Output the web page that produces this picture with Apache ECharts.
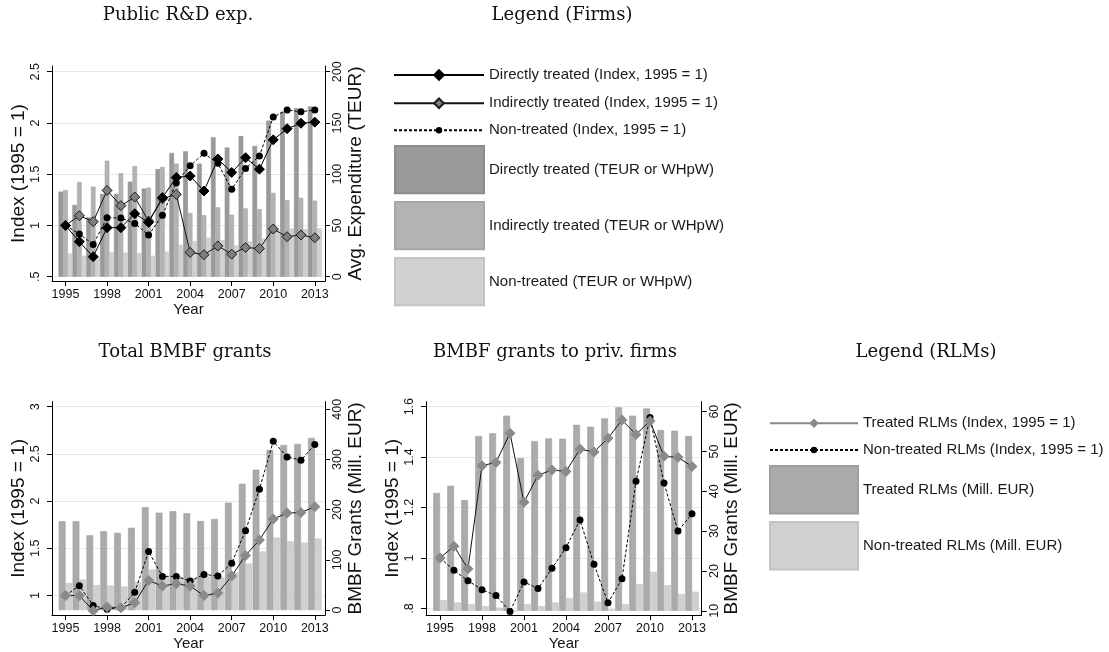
<!DOCTYPE html>
<html>
<head>
<meta charset="utf-8">
<script src="https://cdn.jsdelivr.net/npm/echarts@6/dist/echarts.min.js"></script>
<style>html,body{margin:0;padding:0;background:#fff}#c{width:1109px;height:652px}</style>
</head>
<body>
<div id="c"></div>
<script>
// ---------- data ----------
const years = [1995,1996,1997,1998,1999,2000,2001,2002,2003,2004,2005,2006,2007,2008,2009,2010,2011,2012,2013];
const xTicks = [1995,1998,2001,2004,2007,2010,2013];

// Panel: Public R&D exp.
const pubDirectIdx   = [1.0,0.842,0.695,0.978,0.978,1.115,1.03,1.272,1.468,1.482,1.336,1.648,1.517,1.661,1.549,1.835,1.944,1.997,2.008];
const pubIndirectIdx = [1.0,1.095,1.037,1.342,1.193,1.277,1.043,1.26,1.303,0.737,0.715,0.80,0.72,0.785,0.774,0.965,0.89,0.907,0.88];
const pubNonIdx      = [1.0,0.916,0.815,1.076,1.072,1.02,0.906,1.10,1.417,1.583,1.704,1.606,1.353,1.556,1.678,2.058,2.127,2.109,2.127];
const pubDirectTeur   = [83,70,58,80.7,80.7,92.7,86,105,120.7,122.3,110.3,136.2,126,137.2,127.6,152.3,161,164.4,166];
const pubIndirectTeur = [84.6,92.4,87.9,113.2,101,108,86.9,107,110.3,62.2,60.2,67.7,60.5,66.7,66,81.8,74.8,77,74.2];
const pubNonTeur      = [22.5,20.5,19,23.8,23.5,23,20.4,24.4,31,34.8,38,35.8,30.3,34.4,37.2,46,47,46.5,47.2];
const pubLeftTicks  = [0.5,1,1.5,2,2.5];
const pubRightTicks = [0,50,100,150,200];

// Panel: Total BMBF grants
const totTreatedIdx  = [1.0,1.0,0.84,0.88,0.87,0.925,1.16,1.10,1.126,1.10,1.0,1.026,1.207,1.424,1.589,1.81,1.873,1.88,1.94];
const totNonIdx      = [1.0,1.105,0.895,0.855,0.87,1.035,1.466,1.203,1.203,1.154,1.224,1.207,1.343,1.687,2.125,2.633,2.468,2.433,2.6];
const totTreatedMeur = [177,177,149,157,154,164,205,194,197,193,177.5,181.5,214,251.7,279.5,319,329,331,343];
const totNonMeur     = [54,61,50,49,47,56,81,66,66,63,67,66,75,92.7,116.6,144.4,137,134.4,142.4];
const totLeftTicks  = [1,1.5,2,2.5,3];
const totRightTicks = [0,100,200,300,400];

// Panel: BMBF grants to priv. firms
const privTreatedIdx  = [1.0,1.047,0.957,1.366,1.379,1.495,1.221,1.328,1.349,1.343,1.432,1.42,1.475,1.547,1.49,1.543,1.403,1.399,1.363];
const privNonIdx      = [1.0,0.951,0.91,0.874,0.851,0.788,0.905,0.879,0.959,1.041,1.151,0.975,0.822,0.918,1.304,1.557,1.297,1.107,1.175];
const privTreatedMeur = [39.6,41.4,37.8,53.9,54.6,59,48.3,52.6,53.3,53.2,56.7,56.2,58.3,61.1,59,60.8,55.4,55.2,53.9];
const privNonMeur     = [12.7,12.1,11.7,11.2,10.8,10.1,11.7,11.2,12.1,13.2,14.6,12.3,10.4,11.7,16.7,19.8,16.4,14.2,14.8];
const privLeftTicks  = [0.8,1,1.2,1.4,1.6];
const privRightTicks = [10,20,30,40,50,60];

// series names
const N = {
  dIdx:'Directly treated (Index, 1995 = 1)', iIdx:'Indirectly treated (Index, 1995 = 1)', nIdx:'Non-treated (Index, 1995 = 1)',
  dBar:'Directly treated (TEUR or WHpW)', iBar:'Indirectly treated (TEUR or WHpW)', nBar:'Non-treated (TEUR or WHpW)',
  tIdx:'Treated RLMs (Index, 1995 = 1)', ntIdx:'Non-treated RLMs (Index, 1995 = 1)',
  tBar:'Treated RLMs (Mill. EUR)', ntBar:'Non-treated RLMs (Mill. EUR)'
};

// ---------- helpers ----------
const SANS = 'Liberation Sans, Arial, sans-serif';
const SERIF = 'DejaVu Serif, serif';
const pairs = arr => years.map((y,i)=>[y, arr[i]]);
const fmtNum = v => { let s = String(+v.toFixed(3)); if (s.startsWith('0.')) s = s.slice(1); return s; };

function xAxis(gridIndex, min, max) {
  return {
    type:'value', gridIndex, min, max, name:'Year', nameLocation:'middle', nameGap:20,
    nameTextStyle:{fontSize:15, color:'#111', fontFamily:SANS},
    axisLine:{show:true, onZero:false, lineStyle:{color:'#000', width:1}},
    axisTick:{show:true, length:5, inside:false, customValues:xTicks, lineStyle:{color:'#000'}},
    axisLabel:{show:true, customValues:xTicks, margin:7, fontSize:12.5, color:'#111', fontFamily:SANS, formatter:v=>String(v)},
    splitLine:{show:false}
  };
}
function yAxis(gridIndex, position, min, max, ticks, name, grid) {
  return {
    type:'value', gridIndex, position, min, max, name, nameLocation:'middle',
    nameGap: position==='left' ? 21 : 21,
    nameTextStyle:{fontSize:19, color:'#111', fontFamily:SANS},
    axisLine:{show:true, onZero:false, lineStyle:{color:'#000', width:1}},
    axisTick:{show:true, length:5, customValues:ticks, lineStyle:{color:'#000'}},
    axisLabel:{show:true, customValues:ticks, rotate:90, margin: position==='left'?10:6, fontSize:12.5, color:'#111', fontFamily:SANS, formatter:fmtNum},
    splitLine:{show:grid, lineStyle:{color:'#e2ebee', width:1}}
  };
}
function barS(name, xi, yi, arr, color, border, catGap) {
  return {type:'bar', name, xAxisIndex:xi, yAxisIndex:yi, data:pairs(arr), barGap:'0%', barCategoryGap:catGap,
    itemStyle:{color, borderColor:border, borderWidth:0.6}, silent:true, clip:true};
}
function lineS(name, xi, yi, arr, opt) {
  return Object.assign({type:'line', name, xAxisIndex:xi, yAxisIndex:yi, data:pairs(arr), clip:false, silent:true,
    showSymbol:true, showAllSymbol:true}, opt);
}
const titleStyle = {fontFamily:SERIF, fontSize:18, fontWeight:'normal', color:'#111'};

const option = {
  animation:false,
  backgroundColor:'#fff',
  textStyle:{fontFamily:SANS},
  title:[
    {text:'Public R&D exp.', left:178, top:6, textAlign:'center', padding:0, textStyle:titleStyle},
    {text:'Legend (Firms)', left:562, top:6, textAlign:'center', padding:0, textStyle:titleStyle},
    {text:'Total BMBF grants', left:185, top:343, textAlign:'center', padding:0, textStyle:titleStyle},
    {text:'BMBF grants to priv. firms', left:555, top:343, textAlign:'center', padding:0, textStyle:titleStyle},
    {text:'Legend (RLMs)', left:926, top:343, textAlign:'center', padding:0, textStyle:titleStyle}
  ],
  grid:[
    {left:52, top:66, width:273, height:215},
    {left:52, top:401.7, width:273, height:215},
    {left:426, top:401.7, width:275.7, height:214.3}
  ],
  xAxis:[
    xAxis(0, 1994.025, 2013.736),
    xAxis(1, 1994.025, 2013.736),
    xAxis(2, 1994.0, 2013.693)
  ],
  yAxis:[
    yAxis(0,'left', 0.458, 2.5556, pubLeftTicks, 'Index (1995 = 1)', true),
    yAxis(0,'right', -4.2, 205.56, pubRightTicks, 'Avg. Expenditure (TEUR)', false),
    yAxis(1,'left', 0.793, 3.0525, totLeftTicks, 'Index (1995 = 1)', true),
    yAxis(1,'right', -9.88, 415.0, totRightTicks, 'BMBF Grants (Mill. EUR)', false),
    yAxis(2,'left', 0.7735, 1.6197, privLeftTicks, 'Index (1995 = 1)', true),
    Object.assign(yAxis(2,'right', 8.925, 62.5, privRightTicks, 'BMBF Grants (Mill. EUR)', false), {startValue:10})
  ],
  legend:[
    {data:[N.dIdx], left:393, top:67, padding:0, itemWidth:90, itemHeight:12, selectedMode:false, textStyle:{fontSize:15, lineHeight:16, color:'#1a1a1a', fontFamily:SANS}},
    {data:[N.iIdx], left:393, top:95.3, padding:0, itemWidth:90, itemHeight:12, selectedMode:false, textStyle:{fontSize:15, lineHeight:16, color:'#1a1a1a', fontFamily:SANS}},
    {data:[N.nIdx], left:393, top:122.3, padding:0, itemWidth:90, itemHeight:8, selectedMode:false, textStyle:{fontSize:15, lineHeight:16, color:'#1a1a1a', fontFamily:SANS}},
    {data:[{name:N.dBar, icon:'rect'},{name:N.iBar, icon:'rect'},{name:N.nBar, icon:'rect'}], orient:'vertical', left:394, top:145, padding:0, itemWidth:89, itemHeight:47.3, itemGap:6.7, selectedMode:false, textStyle:{fontSize:15, color:'#1a1a1a', fontFamily:SANS}},
    {data:[{name:N.tIdx, lineStyle:{color:'#888'}}], left:769, top:415.3, padding:0, itemWidth:88, itemHeight:12, selectedMode:false, textStyle:{fontSize:15, lineHeight:16, color:'#1a1a1a', fontFamily:SANS}},
    {data:[N.ntIdx], left:769, top:442, padding:0, itemWidth:88, itemHeight:8, selectedMode:false, textStyle:{fontSize:15, lineHeight:16, color:'#1a1a1a', fontFamily:SANS}},
    {data:[{name:N.tBar, icon:'rect'},{name:N.ntBar, icon:'rect'}], orient:'vertical', left:769, top:465, padding:0, itemWidth:88, itemHeight:47.5, itemGap:6.6, selectedMode:false, textStyle:{fontSize:15, color:'#1a1a1a', fontFamily:SANS}}
  ],
  series:[
    // Panel A bars
    barS(N.dBar, 0, 1, pubDirectTeur, '#9a9a9a', '#8c8c8c', '0%'),
    barS(N.iBar, 0, 1, pubIndirectTeur, '#b3b3b3', '#a6a6a6', '0%'),
    barS(N.nBar, 0, 1, pubNonTeur, '#d1d1d1', '#c4c4c4', '0%'),
    // Panel A lines
    lineS(N.nIdx, 0, 0, pubNonIdx, {symbol:'circle', symbolSize:7, lineStyle:{color:'#000', width:1, type:[3,2]}, itemStyle:{color:'#000', borderColor:'#000', borderWidth:0}}),
    lineS(N.iIdx, 0, 0, pubIndirectIdx, {symbol:'diamond', symbolSize:10, lineStyle:{color:'#111', width:1}, itemStyle:{color:'#7f7f7f', borderColor:'#1a1a1a', borderWidth:1}}),
    lineS(N.dIdx, 0, 0, pubDirectIdx, {symbol:'diamond', symbolSize:10, lineStyle:{color:'#000', width:1}, itemStyle:{color:'#000', borderColor:'#000', borderWidth:1}}),
    // Panel B
    barS(N.tBar, 1, 3, totTreatedMeur, '#ababab', '#9e9e9e', '3%'),
    barS(N.ntBar, 1, 3, totNonMeur, '#d0d0d0', '#c4c4c4', '3%'),
    lineS(N.ntIdx, 1, 2, totNonIdx, {symbol:'circle', symbolSize:7, lineStyle:{color:'#000', width:1, type:[3,2]}, itemStyle:{color:'#000', borderWidth:0}}),
    lineS(N.tIdx, 1, 2, totTreatedIdx, {symbol:'diamond', symbolSize:11, lineStyle:{color:'#111', width:1}, itemStyle:{color:'#8a8a8a', borderColor:'#8a8a8a', borderWidth:0}}),
    // Panel C
    barS(N.tBar, 2, 5, privTreatedMeur, '#ababab', '#9e9e9e', '4%'),
    barS(N.ntBar, 2, 5, privNonMeur, '#d0d0d0', '#c4c4c4', '4%'),
    lineS(N.ntIdx, 2, 4, privNonIdx, {symbol:'circle', symbolSize:7, lineStyle:{color:'#000', width:1, type:[3,2]}, itemStyle:{color:'#000', borderWidth:0}}),
    lineS(N.tIdx, 2, 4, privTreatedIdx, {symbol:'diamond', symbolSize:11, lineStyle:{color:'#111', width:1}, itemStyle:{color:'#8a8a8a', borderColor:'#8a8a8a', borderWidth:0}})
  ]
};
const chart = echarts.init(document.getElementById('c'), null, {renderer:'canvas'});
chart.setOption(option);
</script>
</body>
</html>
